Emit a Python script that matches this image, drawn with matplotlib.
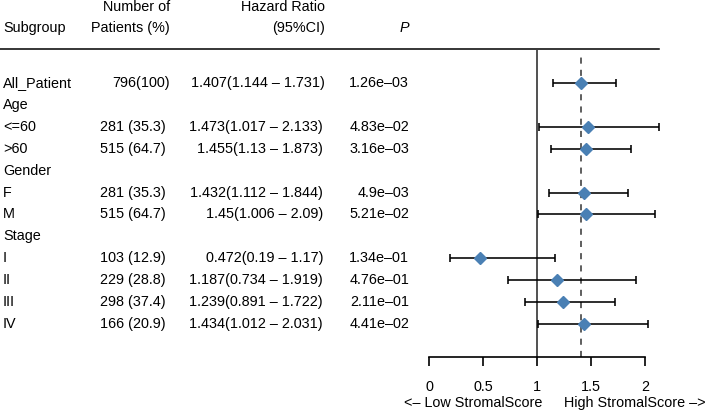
import numpy as np
import matplotlib
matplotlib.use("Agg")
import matplotlib.pyplot as plt
from matplotlib.lines import Line2D

plt.rcParams['font.family'] = ['Liberation Sans', 'DejaVu Sans']

# data
subgroups = ["All_Patient", "Age", "<=60", ">60", "Gender", "F", "M",
             "Stage", "I", "II", "III", "IV"]
patients = ["796(100)", "", "281 (35.3)", "515 (64.7)", "", "281 (35.3)",
            "515 (64.7)", "", "103 (12.9)", "229 (28.8)", "298 (37.4)",
            "166 (20.9)"]
hr = [1.407, None, 1.473, 1.455, None, 1.432, 1.45, None, 0.472, 1.187, 1.239, 1.434]
hr_low = [1.144, None, 1.017, 1.13, None, 1.112, 1.006, None, 0.19, 0.734, 0.891, 1.012]
hr_high = [1.731, None, 2.133, 1.873, None, 1.844, 2.09, None, 1.17, 1.919, 1.722, 2.031]
pvals = ["1.26e\u201303", "", "4.83e\u201302", "3.16e\u201303", "", "4.9e\u201303",
         "5.21e\u201302", "", "1.34e\u201301", "4.76e\u201301", "2.11e\u201301",
         "4.41e\u201302"]
xticks = [0, 0.5, 1, 1.5, 2]

W, H = 709, 411
fig = plt.figure(figsize=(W / 100, H / 100), dpi=100)

fs = 10.4
row0, step = 83, 21.9

# overlay axes in pixel coordinates for the table text
tab = fig.add_axes([0, 0, 1, 1])
tab.set_xlim(0, W)
tab.set_ylim(H, 0)
tab.axis('off')

tab.text(3, 28, "Subgroup", fontsize=fs, ha='left', va='center')
tab.text(170, 7, "Number of", fontsize=fs, ha='right', va='center')
tab.text(170, 28, "Patients (%)", fontsize=fs, ha='right', va='center')
tab.text(325, 7, "Hazard Ratio", fontsize=fs, ha='right', va='center')
tab.text(325, 28, "(95%CI)", fontsize=fs, ha='right', va='center')
tab.text(409, 28, "P", fontsize=fs, ha='right', va='center', style='italic')
tab.add_line(Line2D([0, 659], [49.5, 49.5], color='black', lw=1.1))

for i, name in enumerate(subgroups):
    y = row0 + step * i
    tab.text(3, y, name, fontsize=fs, ha='left', va='center')
    if hr[i] is None:
        continue
    num = patients[i]
    tab.text(170 if " " not in num else 166, y, num,
             fontsize=fs, ha='right', va='center')
    tab.text(325 if i == 0 else 323, y,
             f"{hr[i]}({hr_low[i]} \u2013 {hr_high[i]})",
             fontsize=fs, ha='right', va='center')
    tab.text(409, y, pvals[i], fontsize=fs, ha='right', va='center')

# forest axes: x=0 at 429px, 108px per unit; rows share the table spacing
top_px, bot_px = 50, 357
ax = fig.add_axes([429 / W, 1 - bot_px / H, 2.2 * 108 / W, (bot_px - top_px) / H])
ax.set_xlim(0, 2.2)
ax.set_ylim((bot_px - row0) / step, (top_px - row0) / step)
ax.patch.set_alpha(0)

for s in ['top', 'right', 'left']:
    ax.spines[s].set_visible(False)
ax.spines['bottom'].set_bounds(0, 2)
ax.spines['bottom'].set_linewidth(1.2)
ax.set_yticks([])
ax.set_xticks(xticks)
ax.set_xticklabels([f"{t:g}" for t in xticks], fontsize=fs)
ax.tick_params(axis='x', direction='out', length=6.5, width=1.2, pad=10)

ax.axvline(1, color='#333333', lw=1.2)
ax.axvline(hr[0], ymax=(bot_px - 55) / (bot_px - top_px), color='#333333',
           lw=1.1, ls=(0, (4, 4)))

rows = [i for i in range(len(hr)) if hr[i] is not None]
yv = np.array(rows, dtype=float)
est = np.array([hr[i] for i in rows])
lo = np.array([hr_low[i] for i in rows])
hi = np.array([hr_high[i] for i in rows])
ax.errorbar(est, yv, xerr=[est - lo, hi - est], fmt='none', ecolor='black',
            elinewidth=1.15, capsize=3, capthick=1.15, clip_on=False)
ax.plot(est, yv, 'D', color='#4A80B4', ms=5.9, clip_on=False, zorder=5)

tab.text(542, 403, "<\u2013 Low StromalScore", fontsize=fs, ha='right', va='center')
tab.text(564, 403, "High StromalScore \u2013>", fontsize=fs, ha='left', va='center')

fig.savefig("out.png", dpi=100)
